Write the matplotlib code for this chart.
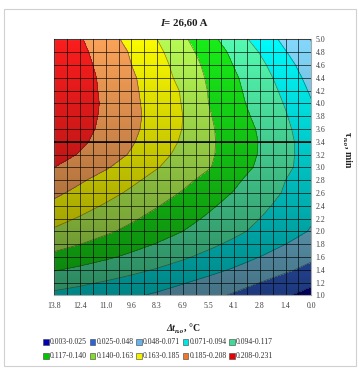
import numpy as np
import matplotlib
matplotlib.use("Agg")
import matplotlib.pyplot as plt
from matplotlib.transforms import IdentityTransform
from matplotlib.patches import Rectangle

# ---- data -------------------------------------------------------------
# temperature difference (columns, left -> right on the chart)
dt_values = [13.8, 12.42, 11.04, 9.66, 8.28, 6.9, 5.52, 4.14, 2.76, 1.38, 0.0]
dt_labels = ["13.8", "12.4", "11.0", "9.6", "8.3", "6.9", "5.5", "4.1", "2.8", "1.4", "0.0"]

# process time, min (rows, bottom -> top)
tau_values = [1.0, 1.2, 1.4, 1.6, 1.8, 2.0, 2.2, 2.4, 2.6, 2.8, 3.0,
              3.2, 3.4, 3.6, 3.8, 4.0, 4.2, 4.4, 4.6, 4.8, 5.0]

z_rows = [
    [0.089, 0.0847, 0.0798, 0.0742, 0.0680, 0.0611, 0.0536, 0.0454, 0.0366, 0.0271, 0.017],
    [0.103, 0.0979, 0.0923, 0.0862, 0.0796, 0.0725, 0.0648, 0.0566, 0.0479, 0.0387, 0.029],
    [0.1186, 0.1127, 0.1063, 0.0996, 0.0926, 0.0851, 0.0772, 0.0690, 0.0604, 0.0514, 0.042],
    [0.1344, 0.1275, 0.1203, 0.1128, 0.1050, 0.0969, 0.0885, 0.0798, 0.0709, 0.0616, 0.052],
    [0.148, 0.1403, 0.1324, 0.1242, 0.1159, 0.1073, 0.0986, 0.0896, 0.0805, 0.0711, 0.0615],
    [0.160, 0.1518, 0.1433, 0.1348, 0.1260, 0.1170, 0.1079, 0.0986, 0.0890, 0.0794, 0.0695],
    [0.170, 0.1612, 0.1522, 0.1429, 0.1335, 0.1239, 0.1141, 0.1041, 0.0940, 0.0836, 0.073],
    [0.180, 0.1706, 0.161, 0.1511, 0.1411, 0.1308, 0.1204, 0.1097, 0.0989, 0.0878, 0.0765],
    [0.189, 0.1795, 0.1697, 0.1596, 0.1491, 0.1384, 0.1272, 0.1158, 0.1040, 0.0919, 0.0795],
    [0.199, 0.1877, 0.1773, 0.167, 0.1565, 0.1455, 0.1336, 0.121, 0.1075, 0.094, 0.082],
    [0.208, 0.1975, 0.187, 0.1755, 0.164, 0.153, 0.1415, 0.128, 0.113, 0.0985, 0.0835],
    [0.217, 0.2065, 0.195, 0.183, 0.170, 0.157, 0.1435, 0.1295, 0.1155, 0.0995, 0.084],
    [0.223, 0.212, 0.200, 0.187, 0.174, 0.1605, 0.144, 0.1295, 0.116, 0.0995, 0.0835],
    [0.2265, 0.215, 0.203, 0.1895, 0.176, 0.1625, 0.1435, 0.129, 0.1145, 0.098, 0.081],
    [0.2285, 0.217, 0.204, 0.1905, 0.177, 0.163, 0.142, 0.127, 0.111, 0.0955, 0.077],
    [0.2295, 0.217, 0.205, 0.190, 0.176, 0.162, 0.140, 0.124, 0.108, 0.0925, 0.0725],
    [0.2295, 0.217, 0.204, 0.189, 0.175, 0.161, 0.139, 0.122, 0.106, 0.089, 0.068],
    [0.229, 0.217, 0.203, 0.188, 0.173, 0.157, 0.137, 0.120, 0.103, 0.085, 0.063],
    [0.228, 0.215, 0.201, 0.185, 0.171, 0.154, 0.134, 0.116, 0.099, 0.079, 0.058],
    [0.227, 0.213, 0.198, 0.183, 0.168, 0.149, 0.130, 0.112, 0.093, 0.072, 0.0525],
    [0.226, 0.210, 0.194, 0.178, 0.163, 0.144, 0.124, 0.105, 0.085, 0.065, 0.047],
]

levels = [0.003, 0.025, 0.048, 0.071, 0.094, 0.117, 0.140, 0.163, 0.185, 0.208, 0.231]
band_labels = ["0.003-0.025", "0.025-0.048", "0.048-0.071", "0.071-0.094", "0.094-0.117",
               "0.117-0.140", "0.140-0.163", "0.163-0.185", "0.185-0.208", "0.208-0.231"]

# lit surface colours and flat legend swatches, one per band
surface_colors = ["#0000aa", "#3a6ef0", "#86dcff", "#00ffff", "#55ffb4",
                  "#18f218", "#bbff55", "#ffff00", "#ffa55a", "#ff1e1e"]
legend_colors = ["#0000b4", "#2864dc", "#64b4f0", "#00e6e6", "#3cdc96",
                 "#00c800", "#82dc28", "#f0f000", "#f07828", "#e60000"]

# ---- figure -----------------------------------------------------------
W, H = 359, 368
fig = plt.figure(figsize=(W / 100, H / 100), dpi=100)
fig.patch.set_facecolor("white")
plt.rcParams["font.family"] = ["Liberation Serif", "DejaVu Serif"]

# chart-area frame
fig.patches.append(Rectangle((4, 2), 352, 357, transform=IdentityTransform(),
                             fill=False, edgecolor="#d0d0d0", linewidth=0.8))

left, right, top, bottom = 54.3, 311.3, 39.3, 295.3
ax = fig.add_axes([left / W, (H - bottom) / H, (right - left) / W, (bottom - top) / H])

X, Y = np.meshgrid(dt_values, tau_values)
Z = np.array(z_rows)
ax.contourf(X, Y, Z, levels=levels, colors=surface_colors, zorder=1, extend="neither")
ax.contour(X, Y, Z, levels=levels[1:-1], colors="#202020", linewidths=0.5, alpha=0.55, zorder=4)

# vertical lighting: darker towards the bottom of the surface
n = 256
t = np.linspace(0, 1, n)
shade = np.zeros((n, 1, 4))
shade[:, 0, 3] = 0.02 + 0.46 * t
ax.imshow(shade, extent=(13.8, 0.0, 1.0, 5.0), aspect="auto", zorder=2, interpolation="bilinear")

# surface mesh
mesh_dt = np.linspace(0.0, 13.8, 21)
mesh_tau = np.linspace(1.0, 5.0, 21)
for xv in mesh_dt:
    ax.axvline(xv, color="black", linewidth=0.6, alpha=0.75, zorder=5)
for yv in mesh_tau:
    ax.axhline(yv, color="black", linewidth=0.6, alpha=0.75, zorder=5)
ax.axhline(3.4, color="black", linewidth=1.1, zorder=6)

ax.set_xlim(13.8, 0.0)
ax.set_ylim(1.0, 5.0)
ax.set_xticks(dt_values)
ax.set_xticklabels(dt_labels)
ax.set_yticks(tau_values)
ax.set_yticklabels([f"{v:.1f}" for v in tau_values])
ax.yaxis.tick_right()
ax.tick_params(axis="both", length=0, labelsize=5.6, colors="#404040")
ax.tick_params(axis="x", pad=5)
ax.tick_params(axis="y", pad=3)
for sp in ax.spines.values():
    sp.set_color("#a8a8a8")
    sp.set_linewidth(0.8)

renderer = fig.canvas.get_renderer()


def rich(x, y, pieces, rot=0):
    """Draw consecutive text pieces centred on (x, y) in pixels from top-left."""
    objs = []
    for s, size, style, shift in pieces:
        tx = fig.text(0, 0, s, transform=IdentityTransform(), fontsize=size,
                      fontstyle=style, fontweight="bold", color="#202020",
                      rotation=rot, rotation_mode="anchor", ha="left", va="baseline")
        objs.append((tx, shift))
    sizes = []
    for tx, _ in objs:
        bb = tx.get_window_extent(renderer)
        sizes.append(bb.width if rot == 0 else bb.height)
    total = sum(sizes)
    if rot == 0:
        cur = x - total / 2
        for (tx, shift), w in zip(objs, sizes):
            tx.set_position((cur, H - y - shift))
            cur += w
    else:
        cur = (H - y) + total / 2
        for (tx, shift), w in zip(objs, sizes):
            tx.set_position((x - shift, cur))
            cur -= w


rich(184, 26, [("I", 7.8, "italic", 0), ("= 26,60 A", 7.8, "normal", 0)])
rich(183, 331, [("Δt", 7.0, "italic", 0), ("п.о", 5.0, "italic", 2), (", °C", 7.0, "normal", 0)])
rich(345, 150, [("τ", 7.0, "normal", 0), ("п.о", 5.0, "italic", 2), (", min", 7.0, "normal", 0)], rot=-90)

# legend: two rows of five swatches
row_y = [342, 356]
col_x = [46, 92.5, 139, 185.5, 232]
for i, (lab, col) in enumerate(zip(band_labels, legend_colors)):
    r, c = divmod(i, 5)
    xs, ys = col_x[c], row_y[r]
    fig.patches.append(Rectangle((xs - 2.6, H - ys - 2.6), 5.2, 5.2, transform=IdentityTransform(),
                                 facecolor=col, edgecolor="#404040", linewidth=0.4))
    fig.text(xs + 4, H - ys, lab, transform=IdentityTransform(), fontsize=5.6,
             color="#303030", ha="left", va="center")

fig.savefig("out.png", dpi=100)
